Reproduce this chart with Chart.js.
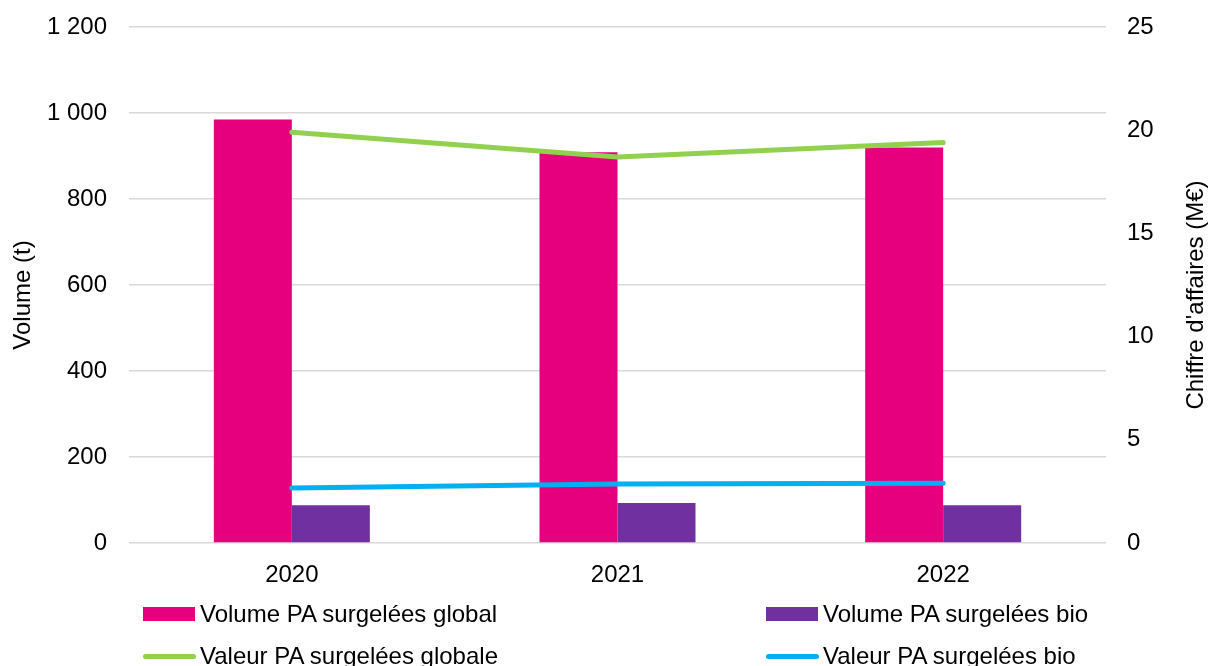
<!DOCTYPE html>
<html>
<head>
<meta charset="utf-8">
<script src="https://cdn.jsdelivr.net/npm/chart.js@4/dist/chart.umd.min.js"></script>
<style>
  body { margin: 0; background: #fff; }
  #wrap { position: relative; width: 1209px; height: 666px; overflow: hidden; }
  .leg { position: absolute; font: 24px "Liberation Sans", Arial, sans-serif; color: #000; white-space: nowrap; line-height: 28px; }
  .sw { position: absolute; }
</style>
</head>
<body>
<div id="wrap">
  <canvas id="myChart" width="1209" height="666"></canvas>
</div>
<script>
    // Data
    const years = ['2020', '2021', '2022'];
    const volumeGlobal = [985, 909, 920];     // t
    const volumeBio = [88, 93, 88];           // t
    const valeurGlobale = [19.9, 18.7, 19.4]; // M€
    const valeurBio = [2.66, 2.86, 2.9];      // M€
    const leftTicks = [0, 1200, 200];
    const rightTicks = [0, 25, 5];

    const font = "'Liberation Sans', Arial, sans-serif";

    function spaced(v) {
        return String(v).replace(/\B(?=(\d{3})+(?!\d))/g, ' ');
    }

    // Axis titles drawn bottom-to-top on both sides
    const axisTitles = {
        id: 'axisTitles',
        afterDraw(chart) {
            const c = chart.ctx;
            const a = chart.chartArea;
            const mid = (a.top + a.bottom) / 2 + 10;
            c.save();
            c.font = '24px ' + font;
            c.fillStyle = '#000';
            c.textAlign = 'center';
            c.textBaseline = 'middle';
            c.translate(23, mid);
            c.rotate(-Math.PI / 2);
            c.fillText('Volume (t)', 0, 0);
            c.restore();
            c.save();
            c.font = '24px ' + font;
            c.fillStyle = '#000';
            c.textAlign = 'center';
            c.textBaseline = 'middle';
            c.translate(1196, mid);
            c.rotate(-Math.PI / 2);
            c.fillText("Chiffre d'affaires (M€)", 0, 0);
            c.restore();
        }
    };

    var ctx = document.getElementById('myChart').getContext('2d');
    var chart = new Chart(ctx, {
        type: 'bar',
        data: {
            labels: years,
            datasets: [
                {
                    label: 'Volume PA surgelées global',
                    data: volumeGlobal,
                    backgroundColor: '#e6007e',
                    yAxisID: 'y',
                    order: 2
                },
                {
                    label: 'Volume PA surgelées bio',
                    data: volumeBio,
                    backgroundColor: '#7030a0',
                    yAxisID: 'y',
                    order: 2
                },
                {
                    type: 'line',
                    label: 'Valeur PA surgelées globale',
                    data: valeurGlobale,
                    borderColor: '#92d050',
                    backgroundColor: '#92d050',
                    borderWidth: 5,
                    borderCapStyle: 'round',
                    pointRadius: 0,
                    yAxisID: 'y1',
                    order: 1
                },
                {
                    type: 'line',
                    label: 'Valeur PA surgelées bio',
                    data: valeurBio,
                    borderColor: '#00b0f0',
                    backgroundColor: '#00b0f0',
                    borderWidth: 5,
                    borderCapStyle: 'round',
                    pointRadius: 0,
                    yAxisID: 'y1',
                    order: 1
                }
            ]
        },
        options: {
            responsive: false,
            animation: false,
            datasets: {
                bar: { barPercentage: 1, categoryPercentage: 0.479 }
            },
            layout: { padding: { top: 27, bottom: 73, left: 0, right: 0 } },
            plugins: {
                legend: { display: false },
                tooltip: { enabled: false }
            },
            scales: {
                x: {
                    grid: { display: false },
                    border: { display: false },
                    ticks: { color: '#000', font: { family: font, size: 24 }, padding: 10 },
                    afterFit(s) { s.height = 50; s.paddingLeft = 0; s.paddingRight = 0; }
                },
                y: {
                    position: 'left',
                    min: leftTicks[0],
                    max: leftTicks[1],
                    ticks: {
                        stepSize: leftTicks[2],
                        color: '#000',
                        font: { family: font, size: 24 },
                        padding: 22,
                        callback: v => spaced(v)
                    },
                    grid: { color: '#d9d9d9', lineWidth: 1.5, drawTicks: false },
                    border: { display: false },
                    afterFit(s) { s.width = 129; s.paddingTop = 0; s.paddingBottom = 0; }
                },
                y1: {
                    position: 'right',
                    min: rightTicks[0],
                    max: rightTicks[1],
                    ticks: {
                        stepSize: rightTicks[2],
                        color: '#000',
                        font: { family: font, size: 24 },
                        padding: 21
                    },
                    grid: { display: false, drawTicks: false },
                    border: { display: false },
                    afterFit(s) { s.width = 103; s.paddingTop = 0; s.paddingBottom = 0; }
                }
            }
        },
        plugins: [axisTitles]
    });

    // Legend in two columns under the chart
    const wrap = document.getElementById('wrap');
    const legPos = [
        { x: 143, y: 614 },
        { x: 766, y: 614 },
        { x: 143, y: 656 },
        { x: 766, y: 656 }
    ];
    chart.data.datasets.forEach(function (ds, i) {
        const p = legPos[i];
        const sw = document.createElement('div');
        sw.className = 'sw';
        if (ds.type === 'line') {
            sw.style.left = p.x + 'px';
            sw.style.top = (p.y - 2.5) + 'px';
            sw.style.width = '53px';
            sw.style.height = '5px';
            sw.style.borderRadius = '3px';
            sw.style.background = ds.borderColor;
        } else {
            sw.style.left = p.x + 'px';
            sw.style.top = (p.y - 7) + 'px';
            sw.style.width = '52px';
            sw.style.height = '14px';
            sw.style.background = ds.backgroundColor;
        }
        wrap.appendChild(sw);
        const t = document.createElement('div');
        t.className = 'leg';
        t.textContent = ds.label;
        t.style.left = (p.x + 57) + 'px';
        t.style.top = (p.y - 14) + 'px';
        wrap.appendChild(t);
    });
</script>
</body>
</html>
